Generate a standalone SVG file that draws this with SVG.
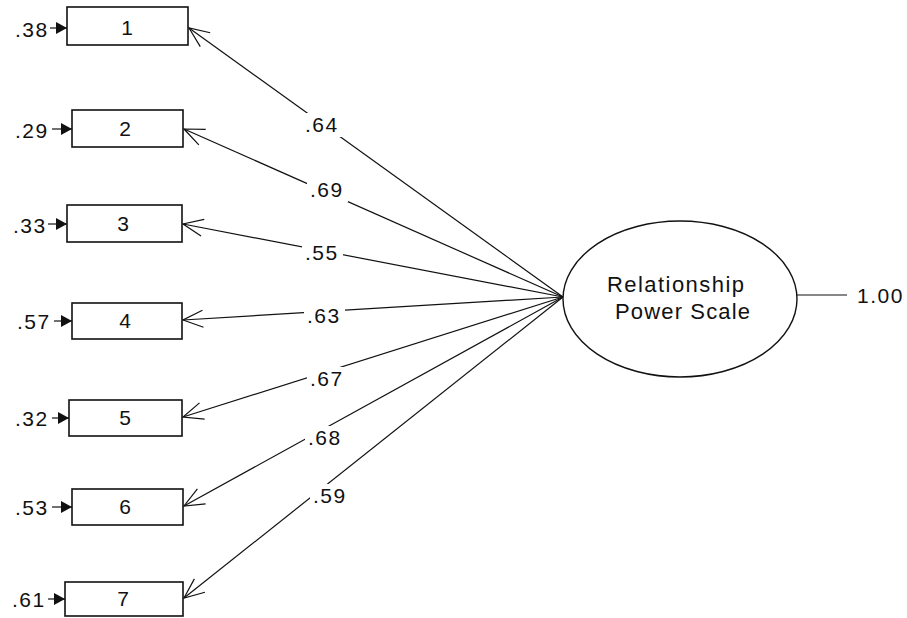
<svg xmlns="http://www.w3.org/2000/svg" width="907" height="618" viewBox="0 0 907 618">
<style>
.box{fill:#fff;stroke:#111;stroke-width:1.6}
.ell{fill:#fff;stroke:#111;stroke-width:1.4}
.ln{fill:none;stroke:#111;stroke-width:1.2}
.t{font-family:"Liberation Sans",Arial,sans-serif;font-size:21px;fill:#111;letter-spacing:1.5px}
.tc{font-family:"Liberation Sans",Arial,sans-serif;font-size:21px;fill:#111;text-anchor:middle}
.tb{font-family:"Liberation Sans",Arial,sans-serif;font-size:22px;fill:#111}
.bg{fill:#fff}
</style>
<defs>
<marker id="open" markerUnits="userSpaceOnUse" viewBox="-22 -11 24 22" refX="0" refY="0" markerWidth="24" markerHeight="22" orient="auto">
<path d="M-20,-8.5 L0,0 L-20,8.5" fill="none" stroke="#111" stroke-width="1.2"/>
</marker>
<marker id="fill" markerUnits="userSpaceOnUse" viewBox="-12 -7 13 14" refX="0" refY="0" markerWidth="13" markerHeight="14" orient="auto">
<path d="M-11,-6 L0,0 L-11,6 z" fill="#111"/>
</marker>
</defs>
<g id="connectors">
<line class="ln" x1="563" y1="297" x2="189" y2="28" marker-end="url(#open)"/>
<line class="ln" x1="563" y1="297" x2="184" y2="129" marker-end="url(#open)"/>
<line class="ln" x1="563" y1="297" x2="183" y2="224" marker-end="url(#open)"/>
<line class="ln" x1="563" y1="297" x2="183" y2="320" marker-end="url(#open)"/>
<line class="ln" x1="563" y1="297" x2="183" y2="417" marker-end="url(#open)"/>
<line class="ln" x1="563" y1="297" x2="184" y2="506" marker-end="url(#open)"/>
<line class="ln" x1="563" y1="297" x2="184" y2="598" marker-end="url(#open)"/>
<line class="ln" x1="797" y1="295" x2="847" y2="295"/>
<line class="ln" x1="50" y1="28" x2="67" y2="28" marker-end="url(#fill)"/>
<line class="ln" x1="52" y1="129" x2="72" y2="129" marker-end="url(#fill)"/>
<line class="ln" x1="48" y1="224" x2="67" y2="224" marker-end="url(#fill)"/>
<line class="ln" x1="54" y1="321" x2="72" y2="321" marker-end="url(#fill)"/>
<line class="ln" x1="52" y1="418" x2="69" y2="418" marker-end="url(#fill)"/>
<line class="ln" x1="52" y1="507" x2="72" y2="507" marker-end="url(#fill)"/>
<line class="ln" x1="48" y1="599" x2="65" y2="599" marker-end="url(#fill)"/>
</g>
<g id="path-labels">
<rect class="bg" x="302" y="113" width="41" height="24"/><text class="t" x="305" y="132">.64</text>
<rect class="bg" x="307" y="178" width="41" height="24"/><text class="t" x="310" y="197">.69</text>
<rect class="bg" x="302" y="241" width="41" height="24"/><text class="t" x="305" y="260">.55</text>
<rect class="bg" x="304" y="304" width="41" height="24"/><text class="t" x="307" y="323">.63</text>
<rect class="bg" x="307" y="367" width="41" height="24"/><text class="t" x="310" y="386">.67</text>
<rect class="bg" x="305" y="426" width="41" height="24"/><text class="t" x="308" y="445">.68</text>
<rect class="bg" x="310" y="484" width="38" height="24"/><text class="t" x="313" y="503">.59</text>
</g>
<g id="node1"><rect class="box" x="67" y="7" width="121" height="38"/><text class="tc" x="127" y="35">1</text><text class="t" x="15" y="37">.38</text></g>
<g id="node2"><rect class="box" x="72" y="110" width="111" height="37"/><text class="tc" x="125" y="136">2</text><text class="t" x="15" y="138">.29</text></g>
<g id="node3"><rect class="box" x="67" y="205" width="115" height="37"/><text class="tc" x="123" y="231">3</text><text class="t" x="13" y="233">.33</text></g>
<g id="node4"><rect class="box" x="72" y="303" width="110" height="36"/><text class="tc" x="125" y="328">4</text><text class="t" x="17" y="329">.57</text></g>
<g id="node5"><rect class="box" x="69" y="400" width="113" height="36"/><text class="tc" x="125" y="425">5</text><text class="t" x="15" y="426">.32</text></g>
<g id="node6"><rect class="box" x="72" y="489" width="111" height="36"/><text class="tc" x="125" y="514">6</text><text class="t" x="15" y="515">.53</text></g>
<g id="node7"><rect class="box" x="65" y="582" width="118" height="34"/><text class="tc" x="123" y="606">7</text><text class="t" x="12" y="607">.61</text></g>
<g id="latent">
<ellipse class="ell" cx="680" cy="299" rx="117" ry="78"/>
<text class="tb" x="607" y="292" textLength="137" lengthAdjust="spacing">Relationship</text>
<text class="tb" x="615" y="319" textLength="135" lengthAdjust="spacing">Power Scale</text>
<text class="t" x="857" y="303">1.00</text>
</g>
</svg>
